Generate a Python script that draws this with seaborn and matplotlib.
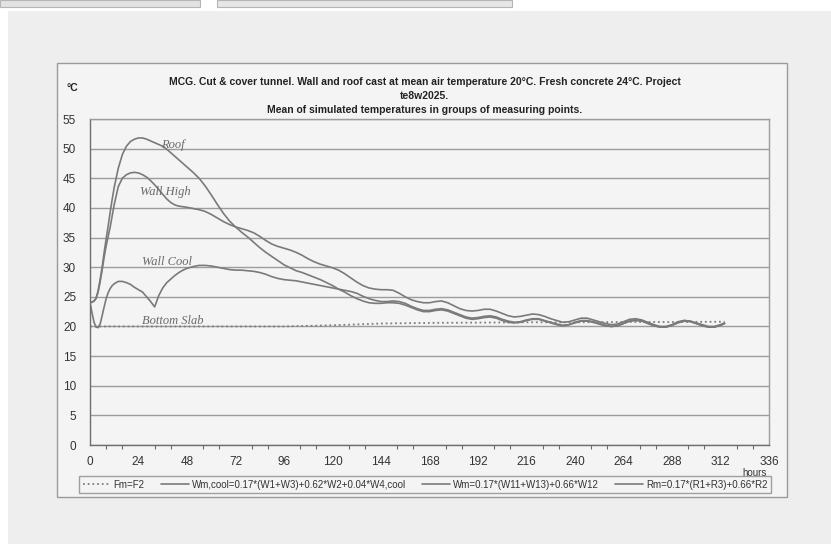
import matplotlib
matplotlib.use("Agg")
import matplotlib.pyplot as plt
from matplotlib.patches import Rectangle
from matplotlib.ticker import MultipleLocator
import seaborn as sns

# --- time axis (hours after casting) ---
hours = ([0, 1, 2, 3, 4, 5, 6, 7, 8, 9, 10, 11, 12, 14, 16, 18, 20, 22, 24,
          26, 28, 30, 32, 34, 36, 38, 40, 42, 44, 46, 48]
         + list(range(51, 313, 3)) + [314])

# Rm = 0.17*(R1+R3)+0.66*R2  (roof)
roof = [24.0, 24.1, 24.3, 24.8, 26.0, 27.9, 30.0, 32.5, 34.8, 37.0, 39.3, 41.5, 43.5,
        46.7, 49.0, 50.4, 51.2, 51.6, 51.8, 51.8, 51.6, 51.3, 51.0, 50.7, 50.4, 49.9,
        49.3, 48.7, 48.1, 47.5, 46.9,
        46.0, 45.0, 43.7, 42.2, 40.6, 39.1, 37.8, 36.8, 35.9, 35.1,
        34.2, 33.3, 32.5, 31.8, 31.1, 30.4, 29.9, 29.4, 29.1, 28.7,
        28.3, 27.9, 27.4, 26.9, 26.3, 25.8, 25.2, 24.7, 24.3, 24.0,
        23.9, 23.9, 24.0, 24.0, 23.9, 23.6, 23.2, 22.8, 22.5, 22.5,
        22.7, 22.8, 22.6, 22.2, 21.8, 21.4, 21.2, 21.3, 21.5, 21.6,
        21.4, 21.0, 20.7, 20.6, 20.7, 21.0, 21.2, 21.2, 20.9, 20.6,
        20.3, 20.1, 20.3, 20.6, 20.9, 20.9, 20.7, 20.4, 20.1, 20.0,
        20.1, 20.5, 20.9, 21.0, 20.9, 20.5, 20.1, 19.9, 19.9, 20.2,
        20.6, 20.9, 20.8, 20.5, 20.1, 19.9, 19.9, 20.2,
        20.5]

# Wm = 0.17*(W11+W13)+0.66*W12  (wall, high part)
wall_high = [24.0, 24.1, 24.3, 24.7, 25.8, 27.5, 29.5, 31.7, 33.6, 35.2, 36.8, 38.7, 40.6,
             43.6, 45.0, 45.6, 45.9, 46.0, 45.9, 45.6, 45.2, 44.6, 43.9, 43.1, 42.3, 41.5,
             40.9, 40.5, 40.3, 40.2, 40.1,
             39.9, 39.7, 39.4, 38.9, 38.3, 37.7, 37.2, 36.8, 36.5, 36.2,
             35.8, 35.2, 34.5, 33.9, 33.5, 33.2, 32.9, 32.5, 32.0, 31.4,
             30.9, 30.5, 30.2, 29.9, 29.5, 28.9, 28.2, 27.5, 26.9, 26.5,
             26.3, 26.2, 26.2, 26.1, 25.6, 25.0, 24.5, 24.2, 24.0, 24.0,
             24.2, 24.3, 24.0, 23.5, 23.0, 22.7, 22.6, 22.7, 22.9, 22.9,
             22.6, 22.2, 21.8, 21.6, 21.7, 21.9, 22.1, 22.0, 21.7, 21.3,
             21.0, 20.7, 20.8, 21.1, 21.4, 21.4, 21.1, 20.8, 20.5, 20.3,
             20.4, 20.8, 21.2, 21.3, 21.1, 20.7, 20.3, 20.0, 20.0, 20.3,
             20.8, 21.0, 20.9, 20.6, 20.3, 20.0, 20.0, 20.3,
             20.6]

# Wm,cool = 0.17*(W1+W3)+0.62*W2+0.04*W4,cool  (cooled wall)
wall_cool = [24.0, 22.3, 20.7, 19.9, 19.8, 20.4, 21.8, 23.3, 24.7, 25.7, 26.4, 26.9, 27.2,
             27.6, 27.6, 27.4, 27.1, 26.6, 26.2, 25.8, 25.0, 24.2, 23.3, 25.2, 26.5, 27.4,
             28.0, 28.6, 29.1, 29.5, 29.8,
             30.1, 30.3, 30.3, 30.2, 30.0, 29.8, 29.6, 29.5, 29.5, 29.4,
             29.3, 29.1, 28.8, 28.4, 28.1, 27.9, 27.8, 27.7, 27.5, 27.3,
             27.1, 26.9, 26.7, 26.5, 26.3, 26.1, 25.9, 25.6, 25.1, 24.7,
             24.4, 24.2, 24.2, 24.3, 24.2, 23.9, 23.4, 23.0, 22.7, 22.7,
             22.9, 23.0, 22.8, 22.4, 22.0, 21.6, 21.4, 21.5, 21.7, 21.8,
             21.6, 21.2, 20.9, 20.7, 20.8, 21.1, 21.3, 21.3, 21.0, 20.7,
             20.4, 20.2, 20.3, 20.7, 21.0, 21.0, 20.8, 20.5, 20.2, 20.0,
             20.1, 20.5, 20.9, 21.1, 21.0, 20.6, 20.2, 19.9, 19.9, 20.2,
             20.7, 21.0, 20.9, 20.5, 20.2, 19.9, 19.9, 20.2,
             20.5]

# Fm = F2  (bottom slab)
slab_hours = [0, 96, 108, 120, 132, 144, 168, 192, 216, 240, 264, 288, 314]
slab = [20.0, 20.0, 20.1, 20.2, 20.35, 20.5, 20.6, 20.65, 20.7, 20.7, 20.75, 20.75, 20.8]

legend_labels = ["Fm=F2",
                 "Wm,cool=0.17*(W1+W3)+0.62*W2+0.04*W4,cool",
                 "Wm=0.17*(W11+W13)+0.66*W12",
                 "Rm=0.17*(R1+R3)+0.66*R2"]
title_lines = ("MCG. Cut & cover tunnel. Wall and roof cast at mean air temperature 20°C. "
               "Fresh concrete 24°C. Project\nte8w2025.\n"
               "Mean of simulated temperatures in groups of measuring points.")
x_ticks = list(range(0, 337, 24))
y_ticks = list(range(0, 56, 5))

sns.set_theme(style="white")
plt.rcParams["font.family"] = ["Liberation Sans", "DejaVu Sans"]

W, H = 831, 544
fig = plt.figure(figsize=(W / 100, H / 100), dpi=100)
fig.patch.set_facecolor("white")


def px_rect(x0, y0, x1, y1, **kw):
    fig.patches.append(Rectangle((x0 / W, 1 - y1 / H), (x1 - x0) / W, (y1 - y0) / H,
                                 transform=fig.transFigure, **kw))


# paper sheet and the strips of the neighbouring pages above it
px_rect(8, 11, 831, 544, facecolor="#eeeeee", edgecolor="none", zorder=-3)
px_rect(0, 0, 200, 7, facecolor="#e2e2e2", edgecolor="#b5b5b5", lw=0.8, zorder=-3)
px_rect(217, 0, 512, 7, facecolor="#e6e6e6", edgecolor="#b5b5b5", lw=0.8, zorder=-3)
# chart frame
px_rect(57, 63, 787, 497, facecolor="#f4f4f4", edgecolor="#9a9a9a", lw=1.0, zorder=-2)

ax = fig.add_axes([90 / W, 1 - 445 / H, 679 / W, 326 / H])
ax.set_facecolor("none")
ax.set_zorder(2)

line_col = "#7a7a7a"
sns.lineplot(x=slab_hours, y=slab, ax=ax, color="#7f7f7f", lw=1.3,
             linestyle=(0, (1.0, 1.6)), label=legend_labels[0], estimator=None)
sns.lineplot(x=hours, y=wall_cool, ax=ax, color=line_col, lw=1.2,
             label=legend_labels[1], estimator=None)
sns.lineplot(x=hours, y=wall_high, ax=ax, color=line_col, lw=1.2,
             label=legend_labels[2], estimator=None)
sns.lineplot(x=hours, y=roof, ax=ax, color=line_col, lw=1.2,
             label=legend_labels[3], estimator=None)

ax.set_xlim(0, 336)
ax.set_ylim(0, 55)
ax.set_xticks(x_ticks)
ax.set_yticks(y_ticks)
ax.xaxis.set_minor_locator(MultipleLocator(8))
ax.tick_params(axis="both", which="major", direction="out", length=4, width=0.9,
               color="#6a6a6a", labelsize=8.5, labelcolor="#333333")
ax.tick_params(axis="x", which="major", pad=4)
ax.tick_params(axis="x", which="minor", direction="out", length=3, width=0.8,
               color="#6a6a6a", bottom=True)
ax.tick_params(axis="y", pad=6)
ax.set_xlabel("")
ax.set_ylabel("")
ax.yaxis.grid(True, color="#9c9c9c", lw=1.0)
ax.xaxis.grid(False)
for side in ("left", "bottom"):
    ax.spines[side].set_color("#6e6e6e")
    ax.spines[side].set_linewidth(1.0)
for side in ("top", "right"):
    ax.spines[side].set_color("#9c9c9c")
    ax.spines[side].set_linewidth(1.0)

# handwritten group names
hand = dict(family=["Liberation Serif", "DejaVu Serif"], style="italic",
            color="#6a6a6a", fontsize=9, ha="left", va="center")
ax.text(35, 50.6, "Roof", **hand)
ax.text(24.5, 42.6, "Wall High", **hand)
ax.text(25.5, 30.9, "Wall Cool", **hand)
ax.text(25.5, 21.0, "Bottom Slab", **hand)

ax.get_legend().remove()
handles, labels = ax.get_legend_handles_labels()

fig.text(425 / W, 1 - 96 / H, title_lines, ha="center", va="center",
         fontsize=7.5, fontweight="bold", color="#222222", linespacing=1.45)
fig.text(72 / W, 1 - 88 / H, "°C", ha="center", va="center",
         fontsize=7.5, fontweight="bold", color="#222222")
fig.text(755 / W, 1 - 472.5 / H, "hours", ha="center", va="center",
         fontsize=7, color="#333333", zorder=1)

leg = fig.legend(handles, labels, loc="center", bbox_to_anchor=(425 / W, 1 - 484.5 / H),
                 ncol=4, fontsize=7, frameon=True, fancybox=False,
                 handlelength=2.9, handletextpad=0.25, columnspacing=1.7,
                 borderpad=0.35, labelcolor="#333333")
leg.get_frame().set_facecolor("#f4f4f4")
leg.get_frame().set_edgecolor("#8a8a8a")
leg.get_frame().set_linewidth(1.0)
leg.set_zorder(5)

fig.savefig("out.png", dpi=100, facecolor=fig.get_facecolor())
